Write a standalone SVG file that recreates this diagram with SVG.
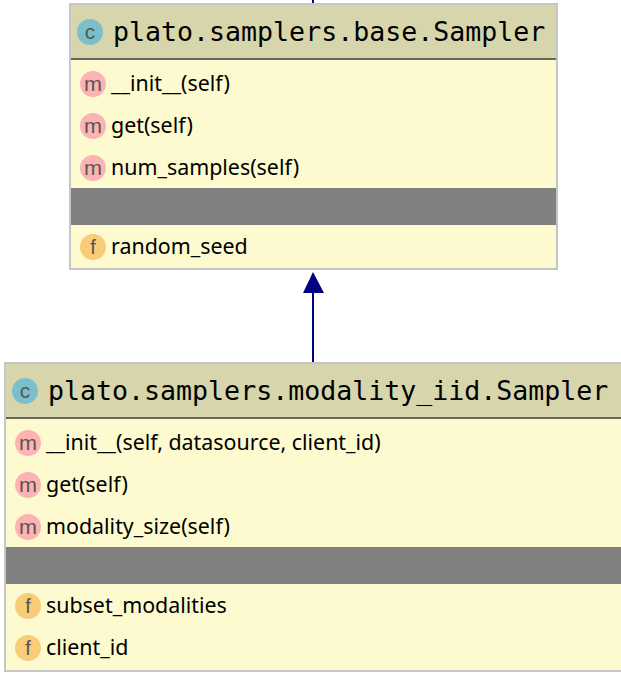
<svg xmlns="http://www.w3.org/2000/svg" width="621" height="676" viewBox="0 0 621 676">
<style>
.box{fill:#fdfacf;stroke:#c6c6c6;stroke-width:2}
.head{fill:#d7d5ac}
.rule{stroke:#666660;stroke-width:2}
.gap{fill:#808080}
.title{font-family:"DejaVu Sans Mono",monospace;font-size:26.6px;fill:#000}
.t{font-family:"Noto Sans",sans-serif;font-size:21.4px;fill:#000}
.ic{font-family:"Liberation Sans",sans-serif;text-anchor:middle;fill:#57574f}
.cc{fill:#7bbfcc}.cm{fill:#fdb3b3}.cf{fill:#f9cc78}
</style>
<defs>
<g id="ic-c"><circle r="13" class="cc"/><text class="ic" y="6.5" font-size="21">c</text></g>
<g id="ic-m"><circle r="13" class="cm"/><text class="ic" y="6.5" font-size="21" textLength="18" lengthAdjust="spacingAndGlyphs">m</text></g>
<g id="ic-f"><circle r="13" class="cf"/><text class="ic" y="7" font-size="20">f</text></g>
</defs>
<g id="connectors">
<line x1="313" y1="0" x2="313" y2="4" stroke="#000080" stroke-width="2"/>
<line x1="313" y1="292" x2="313" y2="363" stroke="#000080" stroke-width="2"/>
<polygon points="313,272 303,293 324,293" fill="#000080"/>
</g>
<g id="node-base">
<rect class="box" x="70" y="4" width="487" height="265"/>
<rect class="head" x="71" y="5" width="485" height="53"/>
<line class="rule" x1="71" y1="59" x2="556" y2="59"/>
<rect class="gap" x="71" y="188" width="485" height="37"/>
<use href="#ic-c" x="90" y="32"/>
<text class="title" x="113" y="41">plato.samplers.base.Sampler</text>
<use href="#ic-m" x="93" y="84"/><text class="t" x="111" y="91">__init__(self)</text>
<use href="#ic-m" x="93" y="126"/><text class="t" x="111" y="133">get(self)</text>
<use href="#ic-m" x="93" y="168"/><text class="t" x="111" y="175">num_samples(self)</text>
<use href="#ic-f" x="93" y="247"/><text class="t" x="111" y="254">random_seed</text>
</g>
<g id="node-modality">
<rect class="box" x="5" y="363" width="620" height="308"/>
<rect class="head" x="6" y="364" width="615" height="53"/>
<line class="rule" x1="6" y1="418" x2="621" y2="418"/>
<rect class="gap" x="6" y="547" width="615" height="37"/>
<use href="#ic-c" x="25" y="391"/>
<text class="title" x="48" y="400">plato.samplers.modality_iid.Sampler</text>
<use href="#ic-m" x="28" y="443"/><text class="t" x="46" y="450">__init__(self, datasource, client_id)</text>
<use href="#ic-m" x="28" y="485"/><text class="t" x="46" y="492">get(self)</text>
<use href="#ic-m" x="28" y="527"/><text class="t" x="46" y="534">modality_size(self)</text>
<use href="#ic-f" x="28" y="606"/><text class="t" x="46" y="613">subset_modalities</text>
<use href="#ic-f" x="28" y="648"/><text class="t" x="46" y="655">client_id</text>
</g>
</svg>
